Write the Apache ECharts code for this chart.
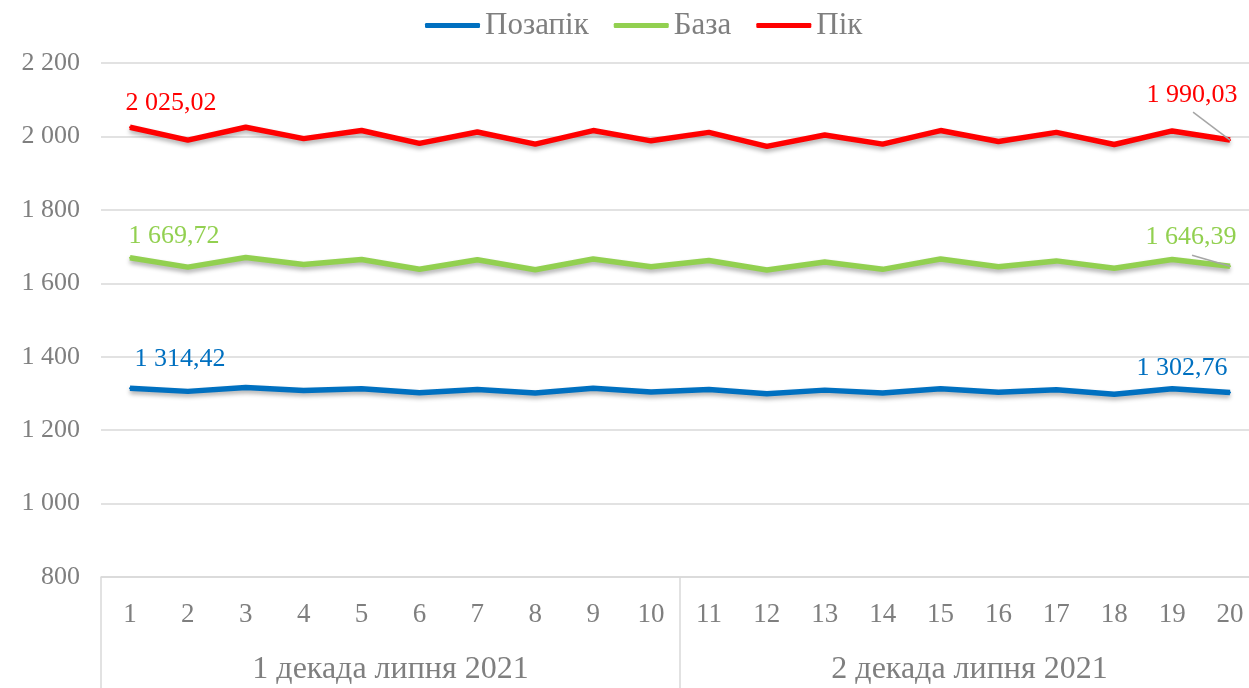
<!DOCTYPE html>
<html>
<head>
<meta charset="utf-8">
<script src="https://cdn.jsdelivr.net/npm/echarts@6/dist/echarts.min.js"></script>
<style>
html, body { margin: 0; padding: 0; background: #fff; }
#main { width: 1249px; height: 688px; }
</style>
</head>
<body>
<div id="main"></div>
<script>
// дані
var days = ['1','2','3','4','5','6','7','8','9','10','11','12','13','14','15','16','17','18','19','20'];
var decades = ['1 декада липня 2021', '2 декада липня 2021'];
var offPeak = [1314.42,1305.6,1316,1308,1313,1302,1311,1301,1314,1304,1311,1299,1309,1301,1313,1303,1310,1298,1313,1302.76];
var base = [1669.72,1644,1670,1651,1665,1638,1664,1637,1666,1645,1662,1636,1658,1638,1666,1645,1661,1641,1665,1646.39];
var peak = [2025.02,1990,2025,1994,2016,1981,2012,1979,2016,1988,2011,1973,2004,1979,2016,1986,2011,1978,2015,1990.03];

var fontName = 'Liberation Serif';
var grey = '#7f7f7f';

function fmt(v, dec) {
    var s = v.toFixed(dec);
    var parts = s.split('.');
    var int = parts[0].replace(/\B(?=(\d{3})+(?!\d))/g, ' ');
    return parts.length > 1 ? int + ',' + parts[1] : int;
}

// підписи лише для першої та останньої точки
function makeData(arr) {
    return arr.map(function (v, i) {
        if (i === 0 || i === arr.length - 1) return { value: v, label: { show: true } };
        return v;
    });
}

function makeSeries(name, arr, color, firstShift, lastShift) {
    return {
        name: name,
        type: 'line',
        data: makeData(arr),
        symbol: 'circle',
        symbolSize: 2,
        showSymbol: true,
        lineStyle: {
            color: color, width: 5.5,
            shadowColor: 'rgba(0,0,0,0.3)', shadowBlur: 4, shadowOffsetY: 3
        },
        itemStyle: { color: color },
        label: {
            show: false,
            position: 'top',
            distance: 6,
            color: color,
            fontFamily: fontName,
            fontSize: 26,
            formatter: function (p) { return fmt(p.value, 2); }
        },
        labelLayout: function (p) {
            return p.dataIndex === 0 ? firstShift : lastShift;
        },
        emphasis: { disabled: true },
        animation: false
    };
}

var myChart = echarts.init(document.getElementById('main'));
var option = {
    backgroundColor: '#fff',
    legend: {
        top: 5,
        left: 420,
        icon: 'roundRect',
        itemWidth: 55,
        itemHeight: 5,
        itemGap: 25,
        textStyle: { fontFamily: fontName, fontSize: 31, color: grey },
        data: ['Позапік', 'База', 'Пік']
    },
    grid: { left: 101, right: -10, top: 63, bottom: 111, outerBoundsMode: 'none' },
    xAxis: [
        {
            type: 'category',
            data: days,
            position: 'bottom',
            axisLine: { show: true, lineStyle: { color: '#d9d9d9', width: 1.5 } },
            axisTick: { show: false },
            axisLabel: { fontFamily: fontName, fontSize: 27, color: grey, margin: 24 }
        },
        {
            type: 'category',
            data: decades,
            position: 'bottom',
            axisLine: { show: false },
            axisTick: { show: true, length: 111, lineStyle: { color: '#d9d9d9', width: 1.5 } },
            axisLabel: { fontFamily: fontName, fontSize: 32, color: grey, margin: 77 }
        }
    ],
    yAxis: {
        type: 'value',
        min: 800,
        max: 2200,
        interval: 200,
        axisLine: { show: false },
        axisTick: { show: false },
        splitLine: { lineStyle: { color: '#d9d9d9', width: 1.5 } },
        axisLabel: {
            fontFamily: fontName, fontSize: 26, color: grey, margin: 21,
            formatter: function (v) { return fmt(v, 0); }
        }
    },
    series: [
        makeSeries('Позапік', offPeak, '#0070c0', { dx: 50, dy: -9 }, { dx: -48, dy: -4 }),
        makeSeries('База', base, '#92d050', { dx: 44, dy: -2 }, { dx: -39, dy: -9 }),
        makeSeries('Пік', peak, '#ff0000', { dx: 41, dy: -4 }, { dx: -38, dy: -25 })
    ]
};
myChart.setOption(option);

// виносні лінії до останніх точок (База, Пік)
var last = days.length - 1;
var leaders = [
    { series: 1, value: base[last], off: [-38, -11] },
    { series: 2, value: peak[last], off: [-37, -28] }
];
myChart.setOption({
    graphic: leaders.map(function (l) {
        var p = myChart.convertToPixel({ seriesIndex: l.series }, [days[last], l.value]);
        return {
            type: 'line',
            z: 10,
            shape: { x1: p[0] + l.off[0], y1: p[1] + l.off[1], x2: p[0], y2: p[1] },
            style: { stroke: '#a6a6a6', lineWidth: 1.5 }
        };
    })
});
</script>
</body>
</html>
